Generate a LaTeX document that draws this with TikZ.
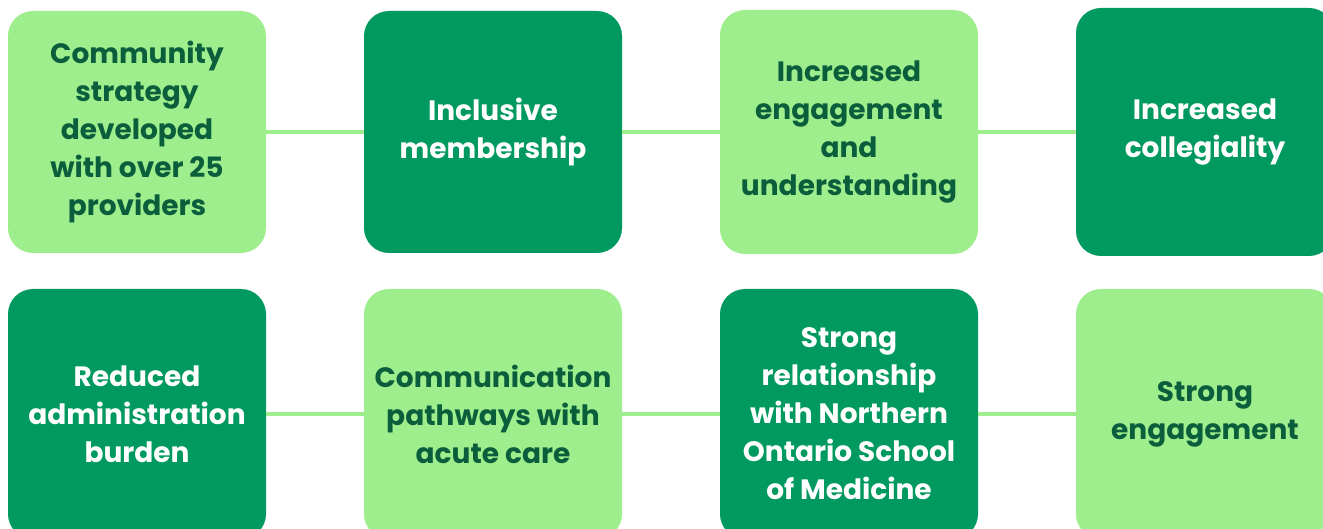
\documentclass[tikz,border=0pt]{standalone}
\usepackage{fontspec}
\setmainfont{Poppins}
\definecolor{leaf}{HTML}{9EEE8E}
\definecolor{pine}{HTML}{00995F}
\definecolor{ink}{HTML}{0B5E3B}
\tikzset{
	box/.style={rounded corners=25pt, minimum width=258pt, align=center, inner sep=0pt,
		font=\bfseries\fontsize{28}{38}\selectfont},
	lightbox/.style={box, fill=leaf, text=ink},
	darkbox/.style={box, fill=pine, text=white},
	link/.style={draw=leaf, line width=4pt}
}
\begin{document}
\begin{tikzpicture}[x=1pt,y=-1pt]
		\path[use as bounding box, clip] (0,0) rectangle (1323,529);
		% top row
		\node[lightbox, minimum height=242pt] (strategy) at (137,132) {Community\\strategy\\developed\\with over 25\\providers};
		\node[darkbox, minimum height=242pt] (members) at (493,132) {Inclusive\\membership};
		\node[lightbox, minimum height=244pt] (engage) at (849,132) {Increased\\engagement\\and\\understanding};
		\node[darkbox, minimum height=248pt] (collegial) at (1205,132) {Increased\\collegiality};
		\draw[link] (strategy) -- (members);
		\draw[link] (members) -- (engage);
		\draw[link] (engage) -- (collegial);
		% bottom row
		\node[darkbox, minimum height=250pt] (admin) at (137,414) {Reduced\\administration\\burden};
		\node[lightbox, minimum height=250pt] (pathways) at (493,414) {Communication\\pathways with\\acute care};
		\node[darkbox, minimum height=250pt] (school) at (849,414) {Strong\\relationship\\with Northern\\Ontario School\\of Medicine};
		\node[lightbox, minimum height=250pt] (strong) at (1205,414) {Strong\\engagement};
		\draw[link] (admin) -- (pathways);
		\draw[link] (pathways) -- (school);
		\draw[link] (school) -- (strong);
	    \end{tikzpicture}
\end{document}
